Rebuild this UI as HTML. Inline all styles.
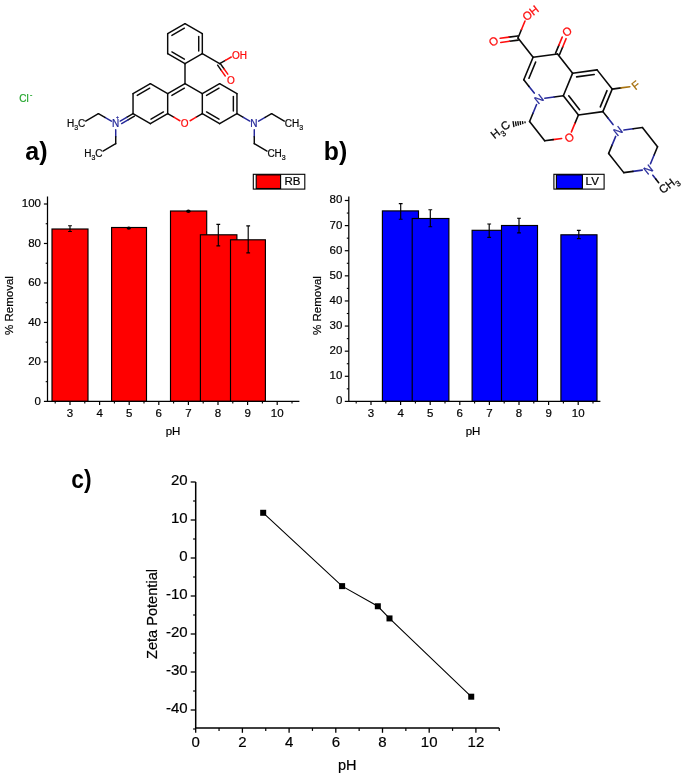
<!DOCTYPE html>
<html lang="en"><head><meta charset="utf-8"><title>Figure</title>
<style>html,body{margin:0;padding:0;background:#fff}svg{display:block;filter:blur(0.4px)}</style></head>
<body>
<svg width="685" height="777" viewBox="0 0 685 777" font-family='"Liberation Sans", sans-serif'>
<rect width="685" height="777" fill="#fff"/>
<g id="rhodamine" stroke-width="0.22">
<line x1="185" y1="83.7" x2="202.32" y2="93.7" stroke="#0a0a0a" stroke-width="1.45" stroke-linecap="round"/>
<line x1="202.32" y1="93.7" x2="202.32" y2="113.7" stroke="#0a0a0a" stroke-width="1.45" stroke-linecap="round"/>
<line x1="202.32" y1="113.7" x2="196.22" y2="117.22" stroke="#0a0a0a" stroke-width="1.45" stroke-linecap="round"/>
<line x1="196.22" y1="117.22" x2="190.11" y2="120.75" stroke="#ff0d0d" stroke-width="1.45" stroke-linecap="round"/>
<line x1="167.68" y1="113.7" x2="173.78" y2="117.22" stroke="#0a0a0a" stroke-width="1.45" stroke-linecap="round"/>
<line x1="173.78" y1="117.22" x2="179.89" y2="120.75" stroke="#ff0d0d" stroke-width="1.45" stroke-linecap="round"/>
<line x1="167.68" y1="113.7" x2="167.68" y2="93.7" stroke="#0a0a0a" stroke-width="1.45" stroke-linecap="round"/>
<line x1="167.68" y1="93.7" x2="185" y2="83.7" stroke="#0a0a0a" stroke-width="1.45" stroke-linecap="round"/>
<line x1="171.9" y1="95.42" x2="184.38" y2="88.22" stroke="#0a0a0a" stroke-width="1.45" stroke-linecap="round"/>
<line x1="150.36" y1="83.7" x2="167.68" y2="93.7" stroke="#0a0a0a" stroke-width="1.45" stroke-linecap="round"/>
<line x1="167.68" y1="113.7" x2="150.36" y2="123.7" stroke="#0a0a0a" stroke-width="1.45" stroke-linecap="round"/>
<line x1="163.45" y1="111.98" x2="150.98" y2="119.18" stroke="#0a0a0a" stroke-width="1.45" stroke-linecap="round"/>
<line x1="150.36" y1="123.7" x2="133.04" y2="113.7" stroke="#0a0a0a" stroke-width="1.45" stroke-linecap="round"/>
<line x1="133.04" y1="113.7" x2="133.04" y2="93.7" stroke="#0a0a0a" stroke-width="1.45" stroke-linecap="round"/>
<line x1="133.04" y1="93.7" x2="150.36" y2="83.7" stroke="#0a0a0a" stroke-width="1.45" stroke-linecap="round"/>
<line x1="137.26" y1="95.42" x2="149.73" y2="88.22" stroke="#0a0a0a" stroke-width="1.45" stroke-linecap="round"/>
<line x1="202.32" y1="93.7" x2="219.64" y2="83.7" stroke="#0a0a0a" stroke-width="1.45" stroke-linecap="round"/>
<line x1="206.55" y1="95.42" x2="219.02" y2="88.22" stroke="#0a0a0a" stroke-width="1.45" stroke-linecap="round"/>
<line x1="219.64" y1="83.7" x2="236.96" y2="93.7" stroke="#0a0a0a" stroke-width="1.45" stroke-linecap="round"/>
<line x1="236.96" y1="93.7" x2="236.96" y2="113.7" stroke="#0a0a0a" stroke-width="1.45" stroke-linecap="round"/>
<line x1="233.36" y1="96.5" x2="233.36" y2="110.9" stroke="#0a0a0a" stroke-width="1.45" stroke-linecap="round"/>
<line x1="236.96" y1="113.7" x2="219.64" y2="123.7" stroke="#0a0a0a" stroke-width="1.45" stroke-linecap="round"/>
<line x1="219.64" y1="123.7" x2="202.32" y2="113.7" stroke="#0a0a0a" stroke-width="1.45" stroke-linecap="round"/>
<line x1="219.02" y1="119.18" x2="206.55" y2="111.98" stroke="#0a0a0a" stroke-width="1.45" stroke-linecap="round"/>
<line x1="185" y1="83.7" x2="185" y2="63.7" stroke="#0a0a0a" stroke-width="1.45" stroke-linecap="round"/>
<line x1="185" y1="23.7" x2="202.32" y2="33.7" stroke="#0a0a0a" stroke-width="1.45" stroke-linecap="round"/>
<line x1="202.32" y1="33.7" x2="202.32" y2="53.7" stroke="#0a0a0a" stroke-width="1.45" stroke-linecap="round"/>
<line x1="198.72" y1="36.5" x2="198.72" y2="50.9" stroke="#0a0a0a" stroke-width="1.45" stroke-linecap="round"/>
<line x1="202.32" y1="53.7" x2="185" y2="63.7" stroke="#0a0a0a" stroke-width="1.45" stroke-linecap="round"/>
<line x1="185" y1="63.7" x2="167.68" y2="53.7" stroke="#0a0a0a" stroke-width="1.45" stroke-linecap="round"/>
<line x1="184.38" y1="59.18" x2="171.9" y2="51.98" stroke="#0a0a0a" stroke-width="1.45" stroke-linecap="round"/>
<line x1="167.68" y1="53.7" x2="167.68" y2="33.7" stroke="#0a0a0a" stroke-width="1.45" stroke-linecap="round"/>
<line x1="167.68" y1="33.7" x2="185" y2="23.7" stroke="#0a0a0a" stroke-width="1.45" stroke-linecap="round"/>
<line x1="171.9" y1="35.42" x2="184.38" y2="28.22" stroke="#0a0a0a" stroke-width="1.45" stroke-linecap="round"/>
<line x1="202.32" y1="53.7" x2="219.64" y2="63.7" stroke="#0a0a0a" stroke-width="1.45" stroke-linecap="round"/>
<line x1="219.64" y1="63.7" x2="225.44" y2="60.35" stroke="#0a0a0a" stroke-width="1.45" stroke-linecap="round"/>
<line x1="225.44" y1="60.35" x2="231.25" y2="57" stroke="#ff0d0d" stroke-width="1.45" stroke-linecap="round"/>
<line x1="220.14" y1="63.4" x2="223.97" y2="68.78" stroke="#0a0a0a" stroke-width="1.45" stroke-linecap="round"/>
<line x1="223.97" y1="68.78" x2="227.79" y2="74.16" stroke="#ff0d0d" stroke-width="1.45" stroke-linecap="round"/>
<line x1="217.61" y1="65.2" x2="221.44" y2="70.58" stroke="#0a0a0a" stroke-width="1.45" stroke-linecap="round"/>
<line x1="221.44" y1="70.58" x2="225.26" y2="75.96" stroke="#ff0d0d" stroke-width="1.45" stroke-linecap="round"/>
<text x="231.91" y="58.58" font-size="10" fill="#ff0d0d" stroke="#ff0d0d" text-anchor="start">OH</text>
<text x="230.9" y="84.08" font-size="10" fill="#ff0d0d" stroke="#ff0d0d" text-anchor="middle">O</text>
<text x="184.7" y="126.68" font-size="10" fill="#ff0d0d" stroke="#ff0d0d" text-anchor="middle">O</text>
<line x1="133.04" y1="113.7" x2="126.63" y2="117.4" stroke="#0a0a0a" stroke-width="1.45" stroke-linecap="round"/>
<line x1="126.63" y1="117.4" x2="120.22" y2="121.1" stroke="#24289a" stroke-width="1.45" stroke-linecap="round"/>
<line x1="134.44" y1="116.12" x2="128.03" y2="119.82" stroke="#0a0a0a" stroke-width="1.45" stroke-linecap="round"/>
<line x1="128.03" y1="119.82" x2="121.62" y2="123.52" stroke="#24289a" stroke-width="1.45" stroke-linecap="round"/>
<line x1="111.39" y1="121.2" x2="104.89" y2="117.45" stroke="#24289a" stroke-width="1.45" stroke-linecap="round"/>
<line x1="104.89" y1="117.45" x2="98.4" y2="113.7" stroke="#0a0a0a" stroke-width="1.45" stroke-linecap="round"/>
<line x1="98.4" y1="113.7" x2="85.67" y2="121.05" stroke="#0a0a0a" stroke-width="1.45" stroke-linecap="round"/>
<line x1="115.72" y1="129.7" x2="115.72" y2="136.7" stroke="#24289a" stroke-width="1.45" stroke-linecap="round"/>
<line x1="115.72" y1="136.7" x2="115.72" y2="143.7" stroke="#0a0a0a" stroke-width="1.45" stroke-linecap="round"/>
<line x1="115.72" y1="143.7" x2="102.99" y2="151.05" stroke="#0a0a0a" stroke-width="1.45" stroke-linecap="round"/>
<text x="115.72" y="126.88" font-size="10" fill="#24289a" stroke="#24289a" text-anchor="middle">N</text>
<text x="116.12" y="118.5" font-size="5" fill="#24289a" stroke="#24289a">+</text>
<text x="85.28" y="126.88" font-size="10" fill="#0a0a0a" stroke="#0a0a0a" text-anchor="end">H<tspan font-size="7" dy="3.3">3</tspan><tspan dy="-3.3">C</tspan></text>
<text x="102.6" y="156.88" font-size="10" fill="#0a0a0a" stroke="#0a0a0a" text-anchor="end">H<tspan font-size="7" dy="3.3">3</tspan><tspan dy="-3.3">C</tspan></text>
<line x1="236.96" y1="113.7" x2="243.37" y2="117.4" stroke="#0a0a0a" stroke-width="1.45" stroke-linecap="round"/>
<line x1="243.37" y1="117.4" x2="249.78" y2="121.1" stroke="#24289a" stroke-width="1.45" stroke-linecap="round"/>
<line x1="258.61" y1="121.2" x2="265.11" y2="117.45" stroke="#24289a" stroke-width="1.45" stroke-linecap="round"/>
<line x1="265.11" y1="117.45" x2="271.6" y2="113.7" stroke="#0a0a0a" stroke-width="1.45" stroke-linecap="round"/>
<line x1="271.6" y1="113.7" x2="284.33" y2="121.05" stroke="#0a0a0a" stroke-width="1.45" stroke-linecap="round"/>
<line x1="254.28" y1="129.7" x2="254.28" y2="136.7" stroke="#24289a" stroke-width="1.45" stroke-linecap="round"/>
<line x1="254.28" y1="136.7" x2="254.28" y2="143.7" stroke="#0a0a0a" stroke-width="1.45" stroke-linecap="round"/>
<line x1="254.28" y1="143.7" x2="267.01" y2="151.05" stroke="#0a0a0a" stroke-width="1.45" stroke-linecap="round"/>
<text x="253.88" y="126.88" font-size="10" fill="#24289a" stroke="#24289a" text-anchor="middle">N</text>
<text x="284.72" y="126.88" font-size="10" fill="#0a0a0a" stroke="#0a0a0a">CH<tspan font-size="7" dy="3.3">3</tspan></text>
<text x="267.4" y="156.88" font-size="10" fill="#0a0a0a" stroke="#0a0a0a">CH<tspan font-size="7" dy="3.3">3</tspan></text>
<text x="19.3" y="101.8" font-size="10" fill="#22a52c" stroke="#22a52c">Cl<tspan font-size="7" dx="1.2" dy="-5">-</tspan></text>
</g>
<g id="levofloxacin" stroke-width="0.25">
<line x1="523.77" y1="79.78" x2="533.09" y2="57.24" stroke="#0a0a0a" stroke-width="1.6" stroke-linecap="round"/>
<line x1="528.96" y1="78.23" x2="535.67" y2="62" stroke="#0a0a0a" stroke-width="1.6" stroke-linecap="round"/>
<line x1="533.09" y1="57.24" x2="557.52" y2="53.94" stroke="#0a0a0a" stroke-width="1.6" stroke-linecap="round"/>
<line x1="557.52" y1="53.94" x2="572.64" y2="73.17" stroke="#0a0a0a" stroke-width="1.6" stroke-linecap="round"/>
<line x1="572.64" y1="73.17" x2="563.32" y2="95.7" stroke="#0a0a0a" stroke-width="1.6" stroke-linecap="round"/>
<line x1="563.32" y1="95.7" x2="554.08" y2="96.95" stroke="#0a0a0a" stroke-width="1.6" stroke-linecap="round"/>
<line x1="554.08" y1="96.95" x2="544.83" y2="98.2" stroke="#24289a" stroke-width="1.6" stroke-linecap="round"/>
<line x1="534.25" y1="93.11" x2="529.01" y2="86.44" stroke="#24289a" stroke-width="1.6" stroke-linecap="round"/>
<line x1="529.01" y1="86.44" x2="523.77" y2="79.78" stroke="#0a0a0a" stroke-width="1.6" stroke-linecap="round"/>
<line x1="572.64" y1="73.17" x2="597.07" y2="69.87" stroke="#0a0a0a" stroke-width="1.6" stroke-linecap="round"/>
<line x1="576.62" y1="76.87" x2="594.21" y2="74.49" stroke="#0a0a0a" stroke-width="1.6" stroke-linecap="round"/>
<line x1="597.07" y1="69.87" x2="612.18" y2="89.1" stroke="#0a0a0a" stroke-width="1.6" stroke-linecap="round"/>
<line x1="612.18" y1="89.1" x2="602.86" y2="111.63" stroke="#0a0a0a" stroke-width="1.6" stroke-linecap="round"/>
<line x1="607" y1="90.65" x2="600.29" y2="106.87" stroke="#0a0a0a" stroke-width="1.6" stroke-linecap="round"/>
<line x1="602.86" y1="111.63" x2="578.43" y2="114.94" stroke="#0a0a0a" stroke-width="1.6" stroke-linecap="round"/>
<line x1="578.43" y1="114.94" x2="563.32" y2="95.7" stroke="#0a0a0a" stroke-width="1.6" stroke-linecap="round"/>
<line x1="579.62" y1="109.65" x2="568.74" y2="95.8" stroke="#0a0a0a" stroke-width="1.6" stroke-linecap="round"/>
<line x1="578.43" y1="114.94" x2="574.92" y2="123.43" stroke="#0a0a0a" stroke-width="1.6" stroke-linecap="round"/>
<line x1="574.92" y1="123.43" x2="571.41" y2="131.93" stroke="#ff0d0d" stroke-width="1.6" stroke-linecap="round"/>
<line x1="561.68" y1="138.48" x2="553.18" y2="139.62" stroke="#ff0d0d" stroke-width="1.6" stroke-linecap="round"/>
<line x1="553.18" y1="139.62" x2="544.68" y2="140.77" stroke="#0a0a0a" stroke-width="1.6" stroke-linecap="round"/>
<line x1="544.68" y1="140.77" x2="529.57" y2="121.54" stroke="#0a0a0a" stroke-width="1.6" stroke-linecap="round"/>
<line x1="529.57" y1="121.54" x2="533.08" y2="113.05" stroke="#0a0a0a" stroke-width="1.6" stroke-linecap="round"/>
<line x1="533.08" y1="113.05" x2="536.59" y2="104.55" stroke="#24289a" stroke-width="1.6" stroke-linecap="round"/>
<line x1="533.09" y1="57.24" x2="517.98" y2="38.01" stroke="#0a0a0a" stroke-width="1.6" stroke-linecap="round"/>
<line x1="517.69" y1="35.93" x2="508.95" y2="37.11" stroke="#0a0a0a" stroke-width="1.6" stroke-linecap="round"/>
<line x1="508.95" y1="37.11" x2="500.2" y2="38.29" stroke="#ff0d0d" stroke-width="1.6" stroke-linecap="round"/>
<line x1="518.26" y1="40.09" x2="509.51" y2="41.27" stroke="#0a0a0a" stroke-width="1.6" stroke-linecap="round"/>
<line x1="509.51" y1="41.27" x2="500.76" y2="42.45" stroke="#ff0d0d" stroke-width="1.6" stroke-linecap="round"/>
<line x1="517.98" y1="38.01" x2="521.49" y2="29.51" stroke="#0a0a0a" stroke-width="1.6" stroke-linecap="round"/>
<line x1="521.49" y1="29.51" x2="525" y2="21.02" stroke="#ff0d0d" stroke-width="1.6" stroke-linecap="round"/>
<line x1="559.46" y1="54.74" x2="562.78" y2="46.71" stroke="#0a0a0a" stroke-width="1.6" stroke-linecap="round"/>
<line x1="562.78" y1="46.71" x2="566.11" y2="38.67" stroke="#ff0d0d" stroke-width="1.6" stroke-linecap="round"/>
<line x1="555.58" y1="53.13" x2="558.9" y2="45.1" stroke="#0a0a0a" stroke-width="1.6" stroke-linecap="round"/>
<line x1="558.9" y1="45.1" x2="562.22" y2="37.07" stroke="#ff0d0d" stroke-width="1.6" stroke-linecap="round"/>
<line x1="612.18" y1="89.1" x2="621.03" y2="87.9" stroke="#0a0a0a" stroke-width="1.6" stroke-linecap="round"/>
<line x1="621.03" y1="87.9" x2="629.88" y2="86.71" stroke="#a8720f" stroke-width="1.6" stroke-linecap="round"/>
<line x1="602.86" y1="111.63" x2="607.95" y2="118.1" stroke="#0a0a0a" stroke-width="1.6" stroke-linecap="round"/>
<line x1="607.95" y1="118.1" x2="613.04" y2="124.57" stroke="#24289a" stroke-width="1.6" stroke-linecap="round"/>
<line x1="623.92" y1="130.06" x2="633.17" y2="128.81" stroke="#24289a" stroke-width="1.6" stroke-linecap="round"/>
<line x1="633.17" y1="128.81" x2="642.41" y2="127.56" stroke="#0a0a0a" stroke-width="1.6" stroke-linecap="round"/>
<line x1="642.41" y1="127.56" x2="657.52" y2="146.79" stroke="#0a0a0a" stroke-width="1.6" stroke-linecap="round"/>
<line x1="657.52" y1="146.79" x2="654.01" y2="155.29" stroke="#0a0a0a" stroke-width="1.6" stroke-linecap="round"/>
<line x1="654.01" y1="155.29" x2="650.5" y2="163.78" stroke="#24289a" stroke-width="1.6" stroke-linecap="round"/>
<line x1="642.26" y1="170.13" x2="633.02" y2="171.38" stroke="#24289a" stroke-width="1.6" stroke-linecap="round"/>
<line x1="633.02" y1="171.38" x2="623.78" y2="172.63" stroke="#0a0a0a" stroke-width="1.6" stroke-linecap="round"/>
<line x1="623.78" y1="172.63" x2="608.66" y2="153.4" stroke="#0a0a0a" stroke-width="1.6" stroke-linecap="round"/>
<line x1="608.66" y1="153.4" x2="612.17" y2="144.9" stroke="#0a0a0a" stroke-width="1.6" stroke-linecap="round"/>
<line x1="612.17" y1="144.9" x2="615.69" y2="136.41" stroke="#24289a" stroke-width="1.6" stroke-linecap="round"/>
<line x1="652.84" y1="175.23" x2="655.76" y2="178.94" stroke="#24289a" stroke-width="1.6" stroke-linecap="round"/>
<line x1="655.76" y1="178.94" x2="658.69" y2="182.66" stroke="#0a0a0a" stroke-width="1.6" stroke-linecap="round"/>
<line x1="525.18" y1="123.26" x2="524.87" y2="121.28" stroke="#0a0a0a" stroke-width="1.35"/>
<line x1="522.89" y1="124.13" x2="522.42" y2="121.17" stroke="#0a0a0a" stroke-width="1.35"/>
<line x1="520.67" y1="124.79" x2="520.1" y2="121.23" stroke="#0a0a0a" stroke-width="1.35"/>
<line x1="518.46" y1="125.54" x2="517.77" y2="121.2" stroke="#0a0a0a" stroke-width="1.35"/>
<line x1="516.24" y1="126.2" x2="515.45" y2="121.27" stroke="#0a0a0a" stroke-width="1.35"/>
<line x1="513.95" y1="127.13" x2="512.99" y2="121.1" stroke="#0a0a0a" stroke-width="1.35"/>
<text x="538.89" y="103.12" font-size="11.5" fill="#24289a" stroke="#24289a" text-anchor="middle" transform="rotate(-38.5 538.89 99.01)">N</text>
<text x="617.98" y="134.98" font-size="11.5" fill="#24289a" stroke="#24289a" text-anchor="middle" transform="rotate(-38.5 617.98 130.86)">N</text>
<text x="648.21" y="173.45" font-size="11.5" fill="#24289a" stroke="#24289a" text-anchor="middle" transform="rotate(-38.5 648.21 169.33)">N</text>
<text x="569.11" y="141.59" font-size="11.5" fill="#ff0d0d" stroke="#ff0d0d" text-anchor="middle" transform="rotate(-38.5 569.11 137.47)">O</text>
<text x="493.54" y="45.43" font-size="11.5" fill="#ff0d0d" stroke="#ff0d0d" text-anchor="middle" transform="rotate(-38.5 493.54 41.31)">O</text>
<text x="566.84" y="35.52" font-size="11.5" fill="#ff0d0d" stroke="#ff0d0d" text-anchor="middle" transform="rotate(-38.5 566.84 31.4)">O</text>
<text x="635.71" y="89.31" font-size="11.5" fill="#a8720f" stroke="#a8720f" text-anchor="middle" transform="rotate(-38.5 635.71 85.19)">F</text>
<text x="522.82" y="19.59" font-size="11.5" fill="#ff0d0d" stroke="#ff0d0d" transform="rotate(-38.5 527.29 15.47)">OH</text>
<text x="509.28" y="129.56" font-size="11.5" fill="#0a0a0a" stroke="#0a0a0a" text-anchor="end" transform="rotate(-38.5 505.14 125.45)">H<tspan font-size="8" dy="3.8">3</tspan><tspan dy="-3.8">C</tspan></text>
<text x="659.18" y="192.68" font-size="11.5" fill="#0a0a0a" stroke="#0a0a0a" transform="rotate(-38.5 663.32 188.56)">CH<tspan font-size="8" dy="3.8">3</tspan></text>
</g>
<text x="25.3" y="160.2" font-size="25" font-weight="bold" fill="#000" textLength="22.3" lengthAdjust="spacingAndGlyphs">a)</text>
<text x="323.8" y="160.2" font-size="25.5" font-weight="bold" fill="#000" textLength="23.4" lengthAdjust="spacingAndGlyphs">b)</text>
<text x="71.2" y="487.8" font-size="25" font-weight="bold" fill="#000" textLength="20.3" lengthAdjust="spacingAndGlyphs">c)</text>
<g>
<rect x="52" y="229" width="36" height="172.4" fill="#ff0000" stroke="#000" stroke-width="1.15"/>
<rect x="111.6" y="227.5" width="34.9" height="173.9" fill="#ff0000" stroke="#000" stroke-width="1.15"/>
<rect x="170.5" y="211" width="36.2" height="190.4" fill="#ff0000" stroke="#000" stroke-width="1.15"/>
<rect x="200.4" y="234.8" width="36.5" height="166.6" fill="#ff0000" stroke="#000" stroke-width="1.15"/>
<rect x="230.5" y="239.8" width="34.9" height="161.6" fill="#ff0000" stroke="#000" stroke-width="1.15"/>
<path d="M70 225.7V231.5M68.1 225.7h3.8M68.1 231.5h3.8" stroke="#000" stroke-width="1.15" fill="none"/>
<path d="M218.3 224.3V245.9M216.4 224.3h3.8M216.4 245.9h3.8" stroke="#000" stroke-width="1.15" fill="none"/>
<path d="M248.2 225.8V252.9M246.3 225.8h3.8M246.3 252.9h3.8" stroke="#000" stroke-width="1.15" fill="none"/>
<ellipse cx="128.8" cy="228.1" rx="2.2" ry="1.7" fill="#000"/>
<ellipse cx="188.4" cy="211.2" rx="2.2" ry="1.7" fill="#000"/>
<path d="M47.5 196.4V401.4H299.4" stroke="#000" stroke-width="1.25" fill="none"/>
<path d="M47.5 401.4h-3.6" stroke="#000" stroke-width="1.2"/>
<text x="41" y="404.8" font-size="11.5" text-anchor="end" fill="#000" stroke="#000" stroke-width="0.2">0</text>
<path d="M47.5 381.66h-1.8" stroke="#000" stroke-width="1.1"/>
<path d="M47.5 361.92h-3.6" stroke="#000" stroke-width="1.2"/>
<text x="41" y="365.32" font-size="11.5" text-anchor="end" fill="#000" stroke="#000" stroke-width="0.2">20</text>
<path d="M47.5 342.18h-1.8" stroke="#000" stroke-width="1.1"/>
<path d="M47.5 322.44h-3.6" stroke="#000" stroke-width="1.2"/>
<text x="41" y="325.84" font-size="11.5" text-anchor="end" fill="#000" stroke="#000" stroke-width="0.2">40</text>
<path d="M47.5 302.7h-1.8" stroke="#000" stroke-width="1.1"/>
<path d="M47.5 282.96h-3.6" stroke="#000" stroke-width="1.2"/>
<text x="41" y="286.36" font-size="11.5" text-anchor="end" fill="#000" stroke="#000" stroke-width="0.2">60</text>
<path d="M47.5 263.22h-1.8" stroke="#000" stroke-width="1.1"/>
<path d="M47.5 243.48h-3.6" stroke="#000" stroke-width="1.2"/>
<text x="41" y="246.88" font-size="11.5" text-anchor="end" fill="#000" stroke="#000" stroke-width="0.2">80</text>
<path d="M47.5 223.74h-1.8" stroke="#000" stroke-width="1.1"/>
<path d="M47.5 204h-3.6" stroke="#000" stroke-width="1.2"/>
<text x="41" y="207.4" font-size="11.5" text-anchor="end" fill="#000" stroke="#000" stroke-width="0.2">100</text>
<path d="M70 401.4v3.6" stroke="#000" stroke-width="1.2"/>
<text x="70" y="416.6" font-size="11.5" text-anchor="middle" fill="#000" stroke="#000" stroke-width="0.2">3</text>
<path d="M99.6 401.4v3.6" stroke="#000" stroke-width="1.2"/>
<text x="99.6" y="416.6" font-size="11.5" text-anchor="middle" fill="#000" stroke="#000" stroke-width="0.2">4</text>
<path d="M129.2 401.4v3.6" stroke="#000" stroke-width="1.2"/>
<text x="129.2" y="416.6" font-size="11.5" text-anchor="middle" fill="#000" stroke="#000" stroke-width="0.2">5</text>
<path d="M158.8 401.4v3.6" stroke="#000" stroke-width="1.2"/>
<text x="158.8" y="416.6" font-size="11.5" text-anchor="middle" fill="#000" stroke="#000" stroke-width="0.2">6</text>
<path d="M188.4 401.4v3.6" stroke="#000" stroke-width="1.2"/>
<text x="188.4" y="416.6" font-size="11.5" text-anchor="middle" fill="#000" stroke="#000" stroke-width="0.2">7</text>
<path d="M218 401.4v3.6" stroke="#000" stroke-width="1.2"/>
<text x="218" y="416.6" font-size="11.5" text-anchor="middle" fill="#000" stroke="#000" stroke-width="0.2">8</text>
<path d="M247.6 401.4v3.6" stroke="#000" stroke-width="1.2"/>
<text x="247.6" y="416.6" font-size="11.5" text-anchor="middle" fill="#000" stroke="#000" stroke-width="0.2">9</text>
<path d="M277.2 401.4v3.6" stroke="#000" stroke-width="1.2"/>
<text x="277.2" y="416.6" font-size="11.5" text-anchor="middle" fill="#000" stroke="#000" stroke-width="0.2">10</text>
<path d="M55.2 401.4v2" stroke="#000" stroke-width="1.1"/>
<path d="M84.8 401.4v2" stroke="#000" stroke-width="1.1"/>
<path d="M114.4 401.4v2" stroke="#000" stroke-width="1.1"/>
<path d="M144 401.4v2" stroke="#000" stroke-width="1.1"/>
<path d="M173.6 401.4v2" stroke="#000" stroke-width="1.1"/>
<path d="M203.2 401.4v2" stroke="#000" stroke-width="1.1"/>
<path d="M232.8 401.4v2" stroke="#000" stroke-width="1.1"/>
<path d="M262.4 401.4v2" stroke="#000" stroke-width="1.1"/>
<path d="M292 401.4v2" stroke="#000" stroke-width="1.1"/>
<text x="173" y="435" font-size="11.5" text-anchor="middle" fill="#000" stroke="#000" stroke-width="0.2">pH</text>
<text x="13.2" y="305.5" font-size="11.5" text-anchor="middle" fill="#000" stroke="#000" stroke-width="0.2" transform="rotate(-90 13.2 305.5)">% Removal</text>
<rect x="253.3" y="174.3" width="51.5" height="14.8" fill="#fff" stroke="#000" stroke-width="1.1"/>
<rect x="256.2" y="174.9" width="24.4" height="13.6" fill="#ff0000" stroke="#000" stroke-width="1.1"/>
<text x="284.4" y="184.9" font-size="11.5" fill="#000" stroke="#000" stroke-width="0.2">RB</text>
</g>
<g>
<rect x="382.4" y="210.9" width="36.1" height="190.5" fill="#0000ff" stroke="#000" stroke-width="1.15"/>
<rect x="412.2" y="218.5" width="36.7" height="182.9" fill="#0000ff" stroke="#000" stroke-width="1.15"/>
<rect x="472.1" y="230.3" width="36.2" height="171.1" fill="#0000ff" stroke="#000" stroke-width="1.15"/>
<rect x="501.5" y="225.5" width="36" height="175.9" fill="#0000ff" stroke="#000" stroke-width="1.15"/>
<rect x="560.9" y="234.8" width="36.1" height="166.6" fill="#0000ff" stroke="#000" stroke-width="1.15"/>
<path d="M400.7 203.6V219.2M398.8 203.6h3.8M398.8 219.2h3.8" stroke="#000" stroke-width="1.15" fill="none"/>
<path d="M430.3 209.7V226.7M428.4 209.7h3.8M428.4 226.7h3.8" stroke="#000" stroke-width="1.15" fill="none"/>
<path d="M489.2 224V237.3M487.3 224h3.8M487.3 237.3h3.8" stroke="#000" stroke-width="1.15" fill="none"/>
<path d="M519 218.2V232.8M517.1 218.2h3.8M517.1 232.8h3.8" stroke="#000" stroke-width="1.15" fill="none"/>
<path d="M578.8 230.3V238.6M576.9 230.3h3.8M576.9 238.6h3.8" stroke="#000" stroke-width="1.15" fill="none"/>
<path d="M348.8 196.4V401.4H600.4" stroke="#000" stroke-width="1.25" fill="none"/>
<path d="M348.8 401.4h-4.0" stroke="#000" stroke-width="1.2"/>
<text x="342.3" y="404.3" font-size="11.5" text-anchor="end" fill="#000" stroke="#000" stroke-width="0.2">0</text>
<path d="M348.8 388.84h-2" stroke="#000" stroke-width="1.1"/>
<path d="M348.8 376.29h-4.0" stroke="#000" stroke-width="1.2"/>
<text x="342.3" y="379.19" font-size="11.5" text-anchor="end" fill="#000" stroke="#000" stroke-width="0.2">10</text>
<path d="M348.8 363.73h-2" stroke="#000" stroke-width="1.1"/>
<path d="M348.8 351.17h-4.0" stroke="#000" stroke-width="1.2"/>
<text x="342.3" y="354.07" font-size="11.5" text-anchor="end" fill="#000" stroke="#000" stroke-width="0.2">20</text>
<path d="M348.8 338.62h-2" stroke="#000" stroke-width="1.1"/>
<path d="M348.8 326.06h-4.0" stroke="#000" stroke-width="1.2"/>
<text x="342.3" y="328.96" font-size="11.5" text-anchor="end" fill="#000" stroke="#000" stroke-width="0.2">30</text>
<path d="M348.8 313.51h-2" stroke="#000" stroke-width="1.1"/>
<path d="M348.8 300.95h-4.0" stroke="#000" stroke-width="1.2"/>
<text x="342.3" y="303.85" font-size="11.5" text-anchor="end" fill="#000" stroke="#000" stroke-width="0.2">40</text>
<path d="M348.8 288.39h-2" stroke="#000" stroke-width="1.1"/>
<path d="M348.8 275.84h-4.0" stroke="#000" stroke-width="1.2"/>
<text x="342.3" y="278.74" font-size="11.5" text-anchor="end" fill="#000" stroke="#000" stroke-width="0.2">50</text>
<path d="M348.8 263.28h-2" stroke="#000" stroke-width="1.1"/>
<path d="M348.8 250.72h-4.0" stroke="#000" stroke-width="1.2"/>
<text x="342.3" y="253.62" font-size="11.5" text-anchor="end" fill="#000" stroke="#000" stroke-width="0.2">60</text>
<path d="M348.8 238.17h-2" stroke="#000" stroke-width="1.1"/>
<path d="M348.8 225.61h-4.0" stroke="#000" stroke-width="1.2"/>
<text x="342.3" y="228.51" font-size="11.5" text-anchor="end" fill="#000" stroke="#000" stroke-width="0.2">70</text>
<path d="M348.8 213.06h-2" stroke="#000" stroke-width="1.1"/>
<path d="M348.8 200.5h-4.0" stroke="#000" stroke-width="1.2"/>
<text x="342.3" y="203.4" font-size="11.5" text-anchor="end" fill="#000" stroke="#000" stroke-width="0.2">80</text>
<path d="M371 401.4v3.6" stroke="#000" stroke-width="1.2"/>
<text x="371" y="416.6" font-size="11.5" text-anchor="middle" fill="#000" stroke="#000" stroke-width="0.2">3</text>
<path d="M400.6 401.4v3.6" stroke="#000" stroke-width="1.2"/>
<text x="400.6" y="416.6" font-size="11.5" text-anchor="middle" fill="#000" stroke="#000" stroke-width="0.2">4</text>
<path d="M430.2 401.4v3.6" stroke="#000" stroke-width="1.2"/>
<text x="430.2" y="416.6" font-size="11.5" text-anchor="middle" fill="#000" stroke="#000" stroke-width="0.2">5</text>
<path d="M459.8 401.4v3.6" stroke="#000" stroke-width="1.2"/>
<text x="459.8" y="416.6" font-size="11.5" text-anchor="middle" fill="#000" stroke="#000" stroke-width="0.2">6</text>
<path d="M489.4 401.4v3.6" stroke="#000" stroke-width="1.2"/>
<text x="489.4" y="416.6" font-size="11.5" text-anchor="middle" fill="#000" stroke="#000" stroke-width="0.2">7</text>
<path d="M519 401.4v3.6" stroke="#000" stroke-width="1.2"/>
<text x="519" y="416.6" font-size="11.5" text-anchor="middle" fill="#000" stroke="#000" stroke-width="0.2">8</text>
<path d="M548.6 401.4v3.6" stroke="#000" stroke-width="1.2"/>
<text x="548.6" y="416.6" font-size="11.5" text-anchor="middle" fill="#000" stroke="#000" stroke-width="0.2">9</text>
<path d="M578.2 401.4v3.6" stroke="#000" stroke-width="1.2"/>
<text x="578.2" y="416.6" font-size="11.5" text-anchor="middle" fill="#000" stroke="#000" stroke-width="0.2">10</text>
<path d="M356.2 401.4v2" stroke="#000" stroke-width="1.1"/>
<path d="M385.8 401.4v2" stroke="#000" stroke-width="1.1"/>
<path d="M415.4 401.4v2" stroke="#000" stroke-width="1.1"/>
<path d="M445 401.4v2" stroke="#000" stroke-width="1.1"/>
<path d="M474.6 401.4v2" stroke="#000" stroke-width="1.1"/>
<path d="M504.2 401.4v2" stroke="#000" stroke-width="1.1"/>
<path d="M533.8 401.4v2" stroke="#000" stroke-width="1.1"/>
<path d="M563.4 401.4v2" stroke="#000" stroke-width="1.1"/>
<path d="M593 401.4v2" stroke="#000" stroke-width="1.1"/>
<text x="473" y="435" font-size="11.5" text-anchor="middle" fill="#000" stroke="#000" stroke-width="0.2">pH</text>
<text x="321" y="305.5" font-size="11.5" text-anchor="middle" fill="#000" stroke="#000" stroke-width="0.2" transform="rotate(-90 321 305.5)">% Removal</text>
<rect x="553.9" y="174.3" width="50.2" height="14.8" fill="#fff" stroke="#000" stroke-width="1.1"/>
<rect x="556.4" y="174.9" width="26" height="13.6" fill="#0000ff" stroke="#000" stroke-width="1.1"/>
<text x="585.6" y="184.9" font-size="11.5" fill="#000" stroke="#000" stroke-width="0.2">LV</text>
</g>
<g>
<path d="M195.7 482V728H499.25" stroke="#000" stroke-width="1.5" fill="none"/>
<path d="M195.7 710h-5" stroke="#000" stroke-width="1.3"/>
<text x="187.7" y="713.2" font-size="15" text-anchor="end" fill="#000" stroke="#000" stroke-width="0.2">-40</text>
<path d="M195.7 672h-5" stroke="#000" stroke-width="1.3"/>
<text x="187.7" y="675.2" font-size="15" text-anchor="end" fill="#000" stroke="#000" stroke-width="0.2">-30</text>
<path d="M195.7 634h-5" stroke="#000" stroke-width="1.3"/>
<text x="187.7" y="637.2" font-size="15" text-anchor="end" fill="#000" stroke="#000" stroke-width="0.2">-20</text>
<path d="M195.7 596h-5" stroke="#000" stroke-width="1.3"/>
<text x="187.7" y="599.2" font-size="15" text-anchor="end" fill="#000" stroke="#000" stroke-width="0.2">-10</text>
<path d="M195.7 558h-5" stroke="#000" stroke-width="1.3"/>
<text x="187.7" y="561.2" font-size="15" text-anchor="end" fill="#000" stroke="#000" stroke-width="0.2">0</text>
<path d="M195.7 520h-5" stroke="#000" stroke-width="1.3"/>
<text x="187.7" y="523.2" font-size="15" text-anchor="end" fill="#000" stroke="#000" stroke-width="0.2">10</text>
<path d="M195.7 482h-5" stroke="#000" stroke-width="1.3"/>
<text x="187.7" y="485.2" font-size="15" text-anchor="end" fill="#000" stroke="#000" stroke-width="0.2">20</text>
<path d="M195.7 729h-2.6" stroke="#000" stroke-width="1.2"/>
<path d="M195.7 691h-2.6" stroke="#000" stroke-width="1.2"/>
<path d="M195.7 653h-2.6" stroke="#000" stroke-width="1.2"/>
<path d="M195.7 615h-2.6" stroke="#000" stroke-width="1.2"/>
<path d="M195.7 577h-2.6" stroke="#000" stroke-width="1.2"/>
<path d="M195.7 539h-2.6" stroke="#000" stroke-width="1.2"/>
<path d="M195.7 501h-2.6" stroke="#000" stroke-width="1.2"/>
<path d="M195.7 728v4.8" stroke="#000" stroke-width="1.3"/>
<text x="195.7" y="746.6" font-size="15" text-anchor="middle" fill="#000" stroke="#000" stroke-width="0.2">0</text>
<path d="M242.4 728v4.8" stroke="#000" stroke-width="1.3"/>
<text x="242.4" y="746.6" font-size="15" text-anchor="middle" fill="#000" stroke="#000" stroke-width="0.2">2</text>
<path d="M289.1 728v4.8" stroke="#000" stroke-width="1.3"/>
<text x="289.1" y="746.6" font-size="15" text-anchor="middle" fill="#000" stroke="#000" stroke-width="0.2">4</text>
<path d="M335.8 728v4.8" stroke="#000" stroke-width="1.3"/>
<text x="335.8" y="746.6" font-size="15" text-anchor="middle" fill="#000" stroke="#000" stroke-width="0.2">6</text>
<path d="M382.5 728v4.8" stroke="#000" stroke-width="1.3"/>
<text x="382.5" y="746.6" font-size="15" text-anchor="middle" fill="#000" stroke="#000" stroke-width="0.2">8</text>
<path d="M429.2 728v4.8" stroke="#000" stroke-width="1.3"/>
<text x="429.2" y="746.6" font-size="15" text-anchor="middle" fill="#000" stroke="#000" stroke-width="0.2">10</text>
<path d="M475.9 728v4.8" stroke="#000" stroke-width="1.3"/>
<text x="475.9" y="746.6" font-size="15" text-anchor="middle" fill="#000" stroke="#000" stroke-width="0.2">12</text>
<path d="M219.05 728v2.9" stroke="#000" stroke-width="1.2"/>
<path d="M265.75 728v2.9" stroke="#000" stroke-width="1.2"/>
<path d="M312.45 728v2.9" stroke="#000" stroke-width="1.2"/>
<path d="M359.15 728v2.9" stroke="#000" stroke-width="1.2"/>
<path d="M405.85 728v2.9" stroke="#000" stroke-width="1.2"/>
<path d="M452.55 728v2.9" stroke="#000" stroke-width="1.2"/>
<path d="M499.25 728v2.9" stroke="#000" stroke-width="1.2"/>
<polyline points="263.18,512.78 342.1,586.12 377.83,606.26 389.5,618.42 471.23,696.7" fill="none" stroke="#000" stroke-width="1.1"/>
<rect x="260.18" y="509.78" width="6" height="6" fill="#000"/>
<rect x="339.1" y="583.12" width="6" height="6" fill="#000"/>
<rect x="374.83" y="603.26" width="6" height="6" fill="#000"/>
<rect x="386.5" y="615.42" width="6" height="6" fill="#000"/>
<rect x="468.23" y="693.7" width="6" height="6" fill="#000"/>
<text x="347.3" y="770.4" font-size="14.5" text-anchor="middle" fill="#000" stroke="#000" stroke-width="0.2">pH</text>
<text x="156.6" y="614" font-size="14.6" text-anchor="middle" fill="#000" stroke="#000" stroke-width="0.2" transform="rotate(-90 156.6 614)">Zeta Potential</text>
</g>
</svg>
</body></html>
